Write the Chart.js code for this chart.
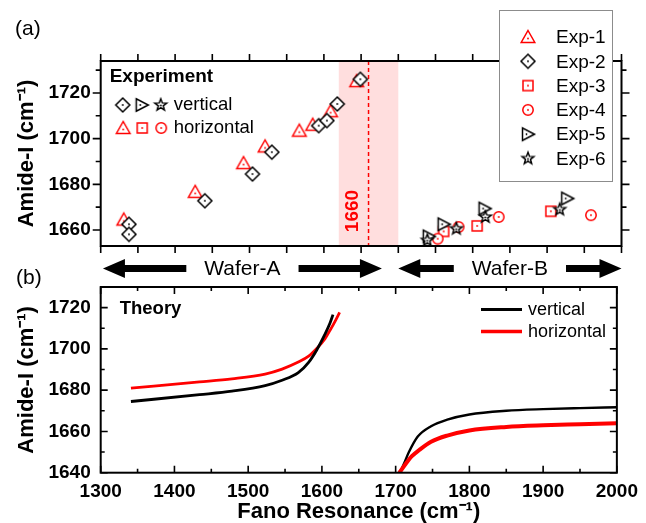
<!DOCTYPE html>
<html>
<head>
<meta charset="utf-8">
<script src="https://cdn.jsdelivr.net/npm/chart.js@4.4.1/dist/chart.umd.min.js"></script>
<style>
  html, body { margin: 0; padding: 0; background: #fff; }
  #wrap { position: relative; width: 646px; height: 523px; }
  #wrap canvas { position: absolute; left: 0; top: 0; }
</style>
</head>
<body>
<div id="wrap">
  <canvas id="chart-exp" width="646" height="523"></canvas>
  <canvas id="chart-theory" width="646" height="523"></canvas>
</div>
<script>
// ---- data: panel (a), experiment ----
const EXP1_X = [1331, 1427, 1492, 1521, 1567, 1585, 1609, 1644];
const EXP1_Y = [1664.6, 1676.7, 1689.3, 1696.6, 1703.5, 1706.1, 1712, 1725.2];
const EXP2_X = [1338, 1338, 1440, 1504, 1530, 1593, 1604, 1618, 1649];
const EXP2_Y = [1662.5, 1658.1, 1672.8, 1684.5, 1694.1, 1705.7, 1707.9, 1715.2, 1726];
const EXP3_X = [1761, 1806, 1905];
const EXP3_Y = [1659.4, 1661.8, 1668.2];
const EXP4_X = [1753, 1781, 1835, 1959];
const EXP4_Y = [1656.2, 1661.3, 1665.7, 1666.5];
const EXP5_X = [1741, 1761, 1816, 1927];
const EXP5_Y = [1657.2, 1662.5, 1669.4, 1673.8];
const EXP6_X = [1739, 1778, 1817, 1917];
const EXP6_Y = [1655.5, 1660.6, 1665.7, 1669];
const EXP_NAMES = ["Exp-1", "Exp-2", "Exp-3", "Exp-4", "Exp-5", "Exp-6"];

// ---- data: panel (b), theory ----
const V_LEFT_X  = [1341, 1434, 1478, 1523, 1546, 1568, 1582, 1593, 1604, 1611, 1615];
const V_LEFT_Y  = [1674.5, 1677.8, 1679.5, 1682.2, 1684.8, 1688.5, 1693.5, 1699.5, 1707, 1712.5, 1716.6];
const H_LEFT_X  = [1341, 1434, 1478, 1523, 1546, 1568, 1582, 1593, 1604, 1611, 1618, 1624];
const H_LEFT_Y  = [1681, 1684, 1685.5, 1687.8, 1690.2, 1693.6, 1696.5, 1700.2, 1704.8, 1709, 1713.5, 1717.7];
const V_RIGHT_X = [1706, 1712, 1718, 1730, 1748, 1770, 1800, 1850, 1900, 1950, 2000];
const V_RIGHT_Y = [1640, 1645, 1650, 1657.5, 1662.5, 1665.7, 1668.2, 1670, 1670.8, 1671.3, 1671.7];
const H_RIGHT_X = [1705, 1714, 1722, 1732, 1748, 1770, 1800, 1850, 1900, 1950, 2000];
const H_RIGHT_Y = [1640, 1644.5, 1648, 1651, 1655, 1658, 1660.5, 1662.2, 1663, 1663.5, 1664];

// ---- axes ----
const X_TICKS   = [1300, 1400, 1500, 1600, 1700, 1800, 1900, 2000];
const X_MINOR   = [1350, 1450, 1550, 1650, 1750, 1850, 1950];
const Y_TICKS_A = [1660, 1680, 1700, 1720];
const Y_MINOR_A = [1670, 1690, 1710, 1730];
const Y_TICKS_B = [1640, 1660, 1680, 1700, 1720];
const Y_MINOR_B = [1650, 1670, 1690, 1710];

// shaded resonance window + marker
const BAND = [1620, 1700];
const MARK = 1660;

const WAFER_LABELS = ["Wafer-A", "Wafer-B"];
const WAFER_FROM   = [1303, 1700];
const WAFER_TO     = [1678, 2000];

const RED = "#ff0000", BLACK = "#000000";
const FONT = '"Liberation Sans", Arial, sans-serif';
const Y_TITLE = "Amide-I (cm\u207B\u00B9)";

// ---- Origin-style hollow symbols with a centre dot ----
function symbol(kind, color) {
  const c = document.createElement("canvas");
  c.width = c.height = 18;
  const g = c.getContext("2d");
  g.translate(9, 9);
  g.lineWidth = 1.5;
  g.strokeStyle = color;
  g.fillStyle = "#fff";
  g.beginPath();
  let dot = [0, 0];
  if (kind === "tri") { g.moveTo(0, -6.5); g.lineTo(6.8, 5.5); g.lineTo(-6.8, 5.5); g.closePath(); dot = [0, 1.5]; }
  if (kind === "dia") { g.moveTo(0, -7); g.lineTo(7, 0); g.lineTo(0, 7); g.lineTo(-7, 0); g.closePath(); }
  if (kind === "sq") { g.rect(-5, -5, 10, 10); }
  if (kind === "circ") { g.arc(0, 0, 5.2, 0, Math.PI * 2); }
  if (kind === "triR") { g.moveTo(6.5, 0); g.lineTo(-5.5, 6.2); g.lineTo(-5.5, -6.2); g.closePath(); dot = [-1.5, 0]; }
  if (kind === "star") {
    for (let i = 0; i < 10; i++) {
      const a = -Math.PI / 2 + i * Math.PI / 5, r = i % 2 ? 2.6 : 6.2;
      i ? g.lineTo(r * Math.cos(a), r * Math.sin(a)) : g.moveTo(r * Math.cos(a), r * Math.sin(a));
    }
    g.closePath();
    dot = [0, 0.5];
  }
  g.fill();
  g.stroke();
  g.fillStyle = color;
  g.beginPath();
  g.arc(dot[0], dot[1], 0.9, 0, Math.PI * 2);
  g.fill();
  return c;
}

const SYM = {
  tri: symbol("tri", RED), dia: symbol("dia", BLACK), sq: symbol("sq", RED),
  circ: symbol("circ", RED), triR: symbol("triR", BLACK), star: symbol("star", BLACK)
};
const EXP_SYMS = [SYM.tri, SYM.dia, SYM.sq, SYM.circ, SYM.triR, SYM.star];

const pts = (xs, ys) => xs.map((x, i) => ({ x, y: ys[i] }));
const stamp = (ctx, img, x, y) => ctx.drawImage(img, x - img.width / 2, y - img.height / 2);

// ---- frame with mirrored ticks ----
function framePlugin(cfg) {
  return {
    id: "frame",
    afterDatasetsDraw(chart) {
      const { ctx, chartArea: a, scales: { x, y } } = chart;
      const d = cfg.inward ? 1 : -1;
      ctx.save();
      ctx.strokeStyle = BLACK;
      ctx.lineWidth = 1.6;
      ctx.beginPath();
      const xt = (vals, len) => vals.forEach(v => {
        const p = x.getPixelForValue(v);
        ctx.moveTo(p, a.bottom); ctx.lineTo(p, a.bottom - d * len);
        ctx.moveTo(p, a.top);    ctx.lineTo(p, a.top + d * len);
      });
      const yt = (vals, len) => vals.forEach(v => {
        const p = y.getPixelForValue(v);
        ctx.moveTo(a.left, p);  ctx.lineTo(a.left + d * len, p);
        ctx.moveTo(a.right, p); ctx.lineTo(a.right - d * len, p);
      });
      xt(cfg.xMajor, cfg.xMajorLen); xt(cfg.xMinor, cfg.xMinorLen);
      yt(cfg.yMajor, cfg.yMajorLen); yt(cfg.yMinor, cfg.yMinorLen);
      ctx.stroke();
      ctx.lineWidth = 2;
      ctx.strokeRect(a.left, a.top, a.right - a.left, a.bottom - a.top);
      ctx.restore();
    }
  };
}

function arrow(ctx, x0, x1, y) {
  const dir = Math.sign(x1 - x0), head = 22, hh = 9.5, sh = 3.4;
  const b = x1 - dir * head;
  ctx.beginPath();
  ctx.moveTo(x0, y - sh); ctx.lineTo(b, y - sh); ctx.lineTo(b, y - hh); ctx.lineTo(x1, y);
  ctx.lineTo(b, y + hh); ctx.lineTo(b, y + sh); ctx.lineTo(x0, y + sh);
  ctx.closePath();
  ctx.fill();
}

function yScale(min, max, ticks) {
  return {
    min, max,
    grid: { display: false, drawTicks: false },
    border: { display: false },
    afterBuildTicks: s => { s.ticks = ticks.map(v => ({ value: v })); },
    afterFit: s => { s.width = 100; },
    ticks: { color: BLACK, padding: 10, callback: v => String(v), font: { family: FONT, size: 19, weight: "bold" } },
    title: {
      display: true, text: Y_TITLE, color: BLACK,
      font: { family: FONT, size: 22, weight: "bold", lineHeight: 1.2 },
      padding: { top: 13, bottom: 0 }
    }
  };
}

// ============ panel (a) ============
const bandPlugin = {
  id: "band",
  beforeDatasetsDraw(chart) {
    const { ctx, chartArea: a, scales: { x } } = chart;
    const x0 = x.getPixelForValue(BAND[0]), x1 = x.getPixelForValue(BAND[1]), xm = x.getPixelForValue(MARK);
    ctx.save();
    ctx.fillStyle = "rgba(255,0,0,0.13)";
    ctx.fillRect(x0, a.top, x1 - x0, a.bottom - a.top);
    ctx.strokeStyle = RED;
    ctx.lineWidth = 1.5;
    ctx.setLineDash([4, 3]);
    ctx.beginPath();
    ctx.moveTo(xm, a.top); ctx.lineTo(xm, a.bottom);
    ctx.stroke();
    ctx.restore();
  }
};

const expNotes = {
  id: "expNotes",
  afterDraw(chart) {
    const { ctx, chartArea: a, scales: { x } } = chart;
    ctx.save();
    ctx.fillStyle = BLACK;
    ctx.textBaseline = "middle";
    ctx.textAlign = "left";

    ctx.font = `21px ${FONT}`;
    ctx.fillText("(a)", 15, 29);
    ctx.fillText("(b)", 16, 278);

    // inner "Experiment" key
    ctx.font = `bold 19px ${FONT}`;
    ctx.fillText("Experiment", a.left + 9, 77);
    ctx.font = `18.5px ${FONT}`;
    [SYM.dia, SYM.triR, SYM.star].forEach((s, i) => stamp(ctx, s, a.left + 22 + i * 19, 105));
    ctx.fillText("vertical", a.left + 73, 105);
    [SYM.tri, SYM.sq, SYM.circ].forEach((s, i) => stamp(ctx, s, a.left + 22.5 + i * 19, 128));
    ctx.fillText("horizontal", a.left + 73, 128);

    // marker label
    ctx.save();
    ctx.translate(x.getPixelForValue(MARK) - 17, 211);
    ctx.rotate(-Math.PI / 2);
    ctx.textAlign = "center";
    ctx.fillStyle = RED;
    ctx.font = `bold 19px ${FONT}`;
    ctx.fillText(String(MARK), 0, 1);
    ctx.restore();

    // series legend box
    ctx.fillStyle = "#fff";
    ctx.fillRect(499, 10.5, 114, 171);
    ctx.strokeStyle = "#8c8c8c";
    ctx.lineWidth = 1;
    ctx.strokeRect(499.5, 10.5, 113, 171);
    ctx.fillStyle = BLACK;
    ctx.font = `19px ${FONT}`;
    EXP_NAMES.forEach((n, i) => {
      const yy = 37 + i * 24.3;
      stamp(ctx, EXP_SYMS[i], 528, yy);
      ctx.fillText(n, 556, yy + 1);
    });

    // wafer arrows
    ctx.font = `21px ${FONT}`;
    ctx.textAlign = "center";
    WAFER_LABELS.forEach((lab, i) => {
      const l = x.getPixelForValue(WAFER_FROM[i]), r = x.getPixelForValue(WAFER_TO[i]);
      const c = (l + r) / 2, hw = ctx.measureText(lab).width / 2, yy = 268.5;
      ctx.fillText(lab, c, yy + 1);
      arrow(ctx, c - hw - 18, l, yy);
      arrow(ctx, c + hw + 18, r, yy);
    });
    ctx.restore();
  }
};

const ORDER = [6, 1, 5, 4, 3, 2];
const EXP_XS = [EXP1_X, EXP2_X, EXP3_X, EXP4_X, EXP5_X, EXP6_X];
const EXP_YS = [EXP1_Y, EXP2_Y, EXP3_Y, EXP4_Y, EXP5_Y, EXP6_Y];

new Chart(document.getElementById("chart-exp"), {
  type: "scatter",
  data: {
    datasets: EXP_NAMES.map((n, i) => ({
      label: n,
      data: pts(EXP_XS[i], EXP_YS[i]),
      pointStyle: EXP_SYMS[i],
      pointRadius: 7,
      order: ORDER[i]
    }))
  },
  options: {
    responsive: false, animation: false, devicePixelRatio: 1,
    layout: { padding: { left: 0.7, right: 24.5, top: 61, bottom: 269 } },
    plugins: { legend: { display: false }, tooltip: { enabled: false } },
    scales: {
      x: {
        type: "linear", min: 1300, max: 2000,
        grid: { display: false, drawTicks: false }, border: { display: false },
        ticks: { display: false },
        afterFit: s => { s.height = 8; }
      },
      y: yScale(1653, 1734, Y_TICKS_A)
    }
  },
  plugins: [bandPlugin, framePlugin({
    inward: false, xMajor: X_TICKS, xMinor: X_MINOR, xMajorLen: 7, xMinorLen: 7,
    yMajor: Y_TICKS_A, yMinor: Y_MINOR_A, yMajorLen: 8, yMinorLen: 5
  }), expNotes]
});

// ============ panel (b) ============
const theoryNotes = {
  id: "theoryNotes",
  afterDraw(chart) {
    const { ctx, chartArea: a } = chart;
    ctx.save();
    ctx.fillStyle = BLACK;
    ctx.textBaseline = "middle";
    ctx.textAlign = "left";
    ctx.font = `bold 18.5px ${FONT}`;
    ctx.fillText("Theory", a.left + 19, 309);
    ctx.font = `18px ${FONT}`;
    ctx.lineWidth = 3;
    ctx.strokeStyle = BLACK;
    ctx.beginPath(); ctx.moveTo(481, 309.5); ctx.lineTo(522, 309.5); ctx.stroke();
    ctx.fillText("vertical", 528, 310);
    ctx.lineWidth = 3.5;
    ctx.strokeStyle = RED;
    ctx.beginPath(); ctx.moveTo(481, 331.5); ctx.lineTo(522, 331.5); ctx.stroke();
    ctx.fillText("horizontal", 528, 332);
    ctx.restore();
  }
};

const curve = (xs, ys, color, w, label) => ({
  label, data: pts(xs, ys), showLine: true, borderColor: color, borderWidth: w,
  pointRadius: 0, cubicInterpolationMode: "monotone", fill: false
});

new Chart(document.getElementById("chart-theory"), {
  type: "scatter",
  data: {
    datasets: [
      curve(H_RIGHT_X, H_RIGHT_Y, RED, 4, "horizontal"),
      curve(V_RIGHT_X, V_RIGHT_Y, BLACK, 2.4, "vertical"),
      curve(V_LEFT_X, V_LEFT_Y, BLACK, 2.8, "vertical"),
      curve(H_LEFT_X, H_LEFT_Y, RED, 2.8, "horizontal")
    ]
  },
  options: {
    responsive: false, animation: false, devicePixelRatio: 1,
    layout: { padding: { left: 0.7, right: 25, top: 287, bottom: 0 } },
    plugins: { legend: { display: false }, tooltip: { enabled: false } },
    scales: {
      x: {
        type: "linear", min: 1300, max: 2000,
        grid: { display: false, drawTicks: false }, border: { display: false },
        afterBuildTicks: s => { s.ticks = X_TICKS.map(v => ({ value: v })); },
        afterFit: s => { s.height = 50.3; },
        ticks: { color: BLACK, padding: 8, maxRotation: 0, callback: v => String(v), font: { family: FONT, size: 19, weight: "bold" } },
        title: {
          display: true, text: "Fano Resonance (cm\u207B\u00B9)", color: BLACK,
          font: { family: FONT, size: 22, weight: "bold", lineHeight: 1 },
          padding: { top: 0, bottom: 0 }
        }
      },
      y: yScale(1640, 1730, Y_TICKS_B)
    }
  },
  plugins: [framePlugin({
    inward: true, xMajor: X_TICKS, xMinor: X_MINOR, xMajorLen: 7, xMinorLen: 4,
    yMajor: Y_TICKS_B, yMinor: Y_MINOR_B, yMajorLen: 7, yMinorLen: 4
  }), theoryNotes]
});
</script>
</body>
</html>
